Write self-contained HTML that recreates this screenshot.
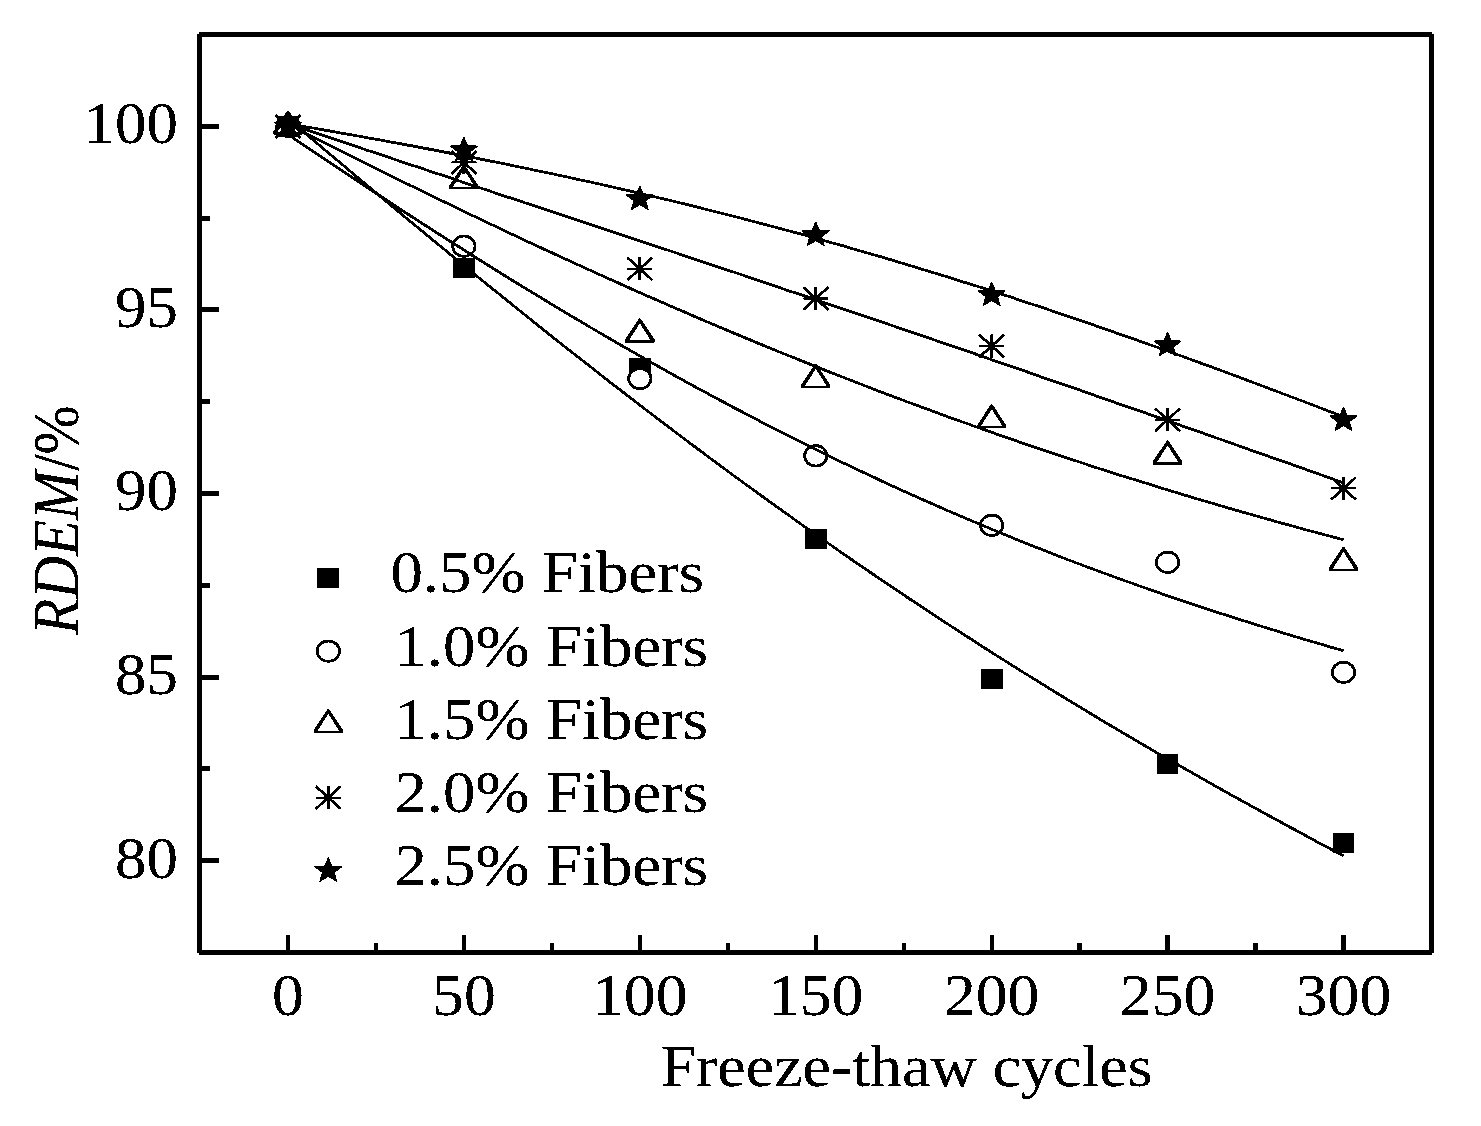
<!DOCTYPE html>
<html><head><meta charset="utf-8"><title>RDEM vs Freeze-thaw cycles</title>
<style>
html,body{margin:0;padding:0;background:#fff;}
body{width:1481px;height:1126px;overflow:hidden;}
svg{display:block;}
text{font-family:"Liberation Serif",serif;font-size:59px;fill:#000;}
</style></head><body>
<svg width="1481" height="1126" viewBox="0 0 1481 1126">
<defs><filter id="bw" x="0" y="0" width="1481" height="1126" filterUnits="userSpaceOnUse" color-interpolation-filters="sRGB">
<feComponentTransfer><feFuncR type="discrete" tableValues="0 0 0 1 1"/><feFuncG type="discrete" tableValues="0 0 0 1 1"/><feFuncB type="discrete" tableValues="0 0 0 1 1"/></feComponentTransfer>
</filter></defs>
<g filter="url(#bw)">
<rect x="0" y="0" width="1481" height="1126" fill="#fff"/>
<g shape-rendering="crispEdges" fill="#000">
<rect x="197" y="32" width="1237" height="5"/>
<rect x="197" y="950" width="1237" height="5"/>
<rect x="197" y="32" width="5" height="923"/>
<rect x="1429" y="32" width="5" height="923"/>
<g fill="#fff"><rect x="197" y="32" width="2" height="2"/><rect x="1432" y="32" width="2" height="2"/><rect x="197" y="953" width="2" height="2"/><rect x="1432" y="953" width="2" height="2"/></g>
<rect x="202" y="123.9" width="17" height="5"/>
<rect x="202" y="307.4" width="17" height="5"/>
<rect x="202" y="490.9" width="17" height="5"/>
<rect x="202" y="674.5" width="17" height="5"/>
<rect x="202" y="858.0" width="17" height="5"/>
<rect x="202" y="215.7" width="8" height="5"/>
<rect x="202" y="399.2" width="8" height="5"/>
<rect x="202" y="582.7" width="8" height="5"/>
<rect x="202" y="766.2" width="8" height="5"/>
<rect x="285.8" y="935" width="4.4" height="15"/>
<rect x="461.7" y="935" width="4.4" height="15"/>
<rect x="637.6" y="935" width="4.4" height="15"/>
<rect x="813.5" y="935" width="4.4" height="15"/>
<rect x="989.5" y="935" width="4.4" height="15"/>
<rect x="1165.4" y="935" width="4.4" height="15"/>
<rect x="1341.3" y="935" width="4.4" height="15"/>
<rect x="373.8" y="943" width="4.4" height="7"/>
<rect x="549.7" y="943" width="4.4" height="7"/>
<rect x="725.6" y="943" width="4.4" height="7"/>
<rect x="901.5" y="943" width="4.4" height="7"/>
<rect x="1077.4" y="943" width="4.4" height="7"/>
<rect x="1253.3" y="943" width="4.4" height="7"/>
</g>
<g>
<rect x="277.25" y="116.60" width="21.5" height="20" fill="#000"/>
<rect x="453.16" y="258.20" width="21.5" height="20" fill="#000"/>
<rect x="629.08" y="358.10" width="21.5" height="20" fill="#000"/>
<rect x="805.00" y="528.90" width="21.5" height="20" fill="#000"/>
<rect x="980.91" y="669.00" width="21.5" height="20" fill="#000"/>
<rect x="1156.83" y="754.00" width="21.5" height="20" fill="#000"/>
<rect x="1332.74" y="832.80" width="21.5" height="20" fill="#000"/>
<ellipse cx="288.00" cy="126.40" rx="11.2" ry="10.15" fill="#fff" stroke="#000" stroke-width="2.6"/>
<ellipse cx="463.91" cy="246.20" rx="11.2" ry="10.15" fill="#fff" stroke="#000" stroke-width="2.6"/>
<ellipse cx="639.83" cy="378.60" rx="11.2" ry="10.15" fill="#fff" stroke="#000" stroke-width="2.6"/>
<ellipse cx="815.75" cy="455.80" rx="11.2" ry="10.15" fill="#fff" stroke="#000" stroke-width="2.6"/>
<ellipse cx="991.66" cy="525.30" rx="11.2" ry="10.15" fill="#fff" stroke="#000" stroke-width="2.6"/>
<ellipse cx="1167.58" cy="562.30" rx="11.2" ry="10.15" fill="#fff" stroke="#000" stroke-width="2.6"/>
<ellipse cx="1343.49" cy="672.40" rx="11.2" ry="10.15" fill="#fff" stroke="#000" stroke-width="2.6"/>
<polygon points="287.40,110.40 288.60,110.40 302.65,131.60 302.65,134.40 273.35,134.40 273.35,131.60" fill="#000"/><polygon points="288.00,115.20 299.00,132.45 277.00,132.45" fill="#fff"/>
<polygon points="463.31,164.70 464.51,164.70 478.56,185.90 478.56,188.70 449.26,188.70 449.26,185.90" fill="#000"/><polygon points="463.91,169.50 474.91,186.75 452.91,186.75" fill="#fff"/>
<polygon points="639.23,318.40 640.43,318.40 654.48,339.60 654.48,342.40 625.18,342.40 625.18,339.60" fill="#000"/><polygon points="639.83,323.20 650.83,340.45 628.83,340.45" fill="#fff"/>
<polygon points="815.14,363.90 816.35,363.90 830.39,385.10 830.39,387.90 801.10,387.90 801.10,385.10" fill="#000"/><polygon points="815.75,368.70 826.75,385.95 804.75,385.95" fill="#fff"/>
<polygon points="991.06,404.30 992.26,404.30 1006.31,425.50 1006.31,428.30 977.01,428.30 977.01,425.50" fill="#000"/><polygon points="991.66,409.10 1002.66,426.35 980.66,426.35" fill="#fff"/>
<polygon points="1166.98,440.40 1168.17,440.40 1182.23,461.60 1182.23,464.40 1152.92,464.40 1152.92,461.60" fill="#000"/><polygon points="1167.58,445.20 1178.58,462.45 1156.58,462.45" fill="#fff"/>
<polygon points="1342.89,546.90 1344.09,546.90 1358.14,568.10 1358.14,570.90 1328.84,570.90 1328.84,568.10" fill="#000"/><polygon points="1343.49,551.70 1354.49,568.95 1332.49,568.95" fill="#fff"/>
<path d="M288.00,114.95 V137.85" stroke="#000" stroke-width="3" fill="none"/><path d="M275.50,126.40 H300.50" stroke="#000" stroke-width="2" fill="none"/><path d="M275.50,115.10 L300.50,137.70 M275.50,137.70 L300.50,115.10" stroke="#000" stroke-width="2.6" fill="none"/>
<path d="M463.91,150.95 V173.85" stroke="#000" stroke-width="3" fill="none"/><path d="M451.41,162.40 H476.41" stroke="#000" stroke-width="2" fill="none"/><path d="M451.41,151.10 L476.41,173.70 M451.41,173.70 L476.41,151.10" stroke="#000" stroke-width="2.6" fill="none"/>
<path d="M639.83,257.35 V280.25" stroke="#000" stroke-width="3" fill="none"/><path d="M627.33,268.80 H652.33" stroke="#000" stroke-width="2" fill="none"/><path d="M627.33,257.50 L652.33,280.10 M627.33,280.10 L652.33,257.50" stroke="#000" stroke-width="2.6" fill="none"/>
<path d="M815.75,287.05 V309.95" stroke="#000" stroke-width="3" fill="none"/><path d="M803.25,298.50 H828.25" stroke="#000" stroke-width="2" fill="none"/><path d="M803.25,287.20 L828.25,309.80 M803.25,309.80 L828.25,287.20" stroke="#000" stroke-width="2.6" fill="none"/>
<path d="M991.66,334.55 V357.45" stroke="#000" stroke-width="3" fill="none"/><path d="M979.16,346.00 H1004.16" stroke="#000" stroke-width="2" fill="none"/><path d="M979.16,334.70 L1004.16,357.30 M979.16,357.30 L1004.16,334.70" stroke="#000" stroke-width="2.6" fill="none"/>
<path d="M1167.58,408.25 V431.15" stroke="#000" stroke-width="3" fill="none"/><path d="M1155.08,419.70 H1180.08" stroke="#000" stroke-width="2" fill="none"/><path d="M1155.08,408.40 L1180.08,431.00 M1155.08,431.00 L1180.08,408.40" stroke="#000" stroke-width="2.6" fill="none"/>
<path d="M1343.49,476.95 V499.85" stroke="#000" stroke-width="3" fill="none"/><path d="M1330.99,488.40 H1355.99" stroke="#000" stroke-width="2" fill="none"/><path d="M1330.99,477.10 L1355.99,499.70 M1330.99,499.70 L1355.99,477.10" stroke="#000" stroke-width="2.6" fill="none"/>
<polygon points="288.00,113.20 291.66,121.81 301.79,122.32 293.93,128.15 296.52,137.08 288.00,132.08 279.48,137.08 282.07,128.15 274.21,122.32 284.34,121.81" fill="#000" stroke="#000" stroke-width="0.8" stroke-linejoin="round"/>
<polygon points="463.91,137.00 467.58,145.61 477.71,146.12 469.84,151.95 472.44,160.88 463.91,155.88 455.39,160.88 457.99,151.95 450.12,146.12 460.25,145.61" fill="#000" stroke="#000" stroke-width="0.8" stroke-linejoin="round"/>
<polygon points="639.83,185.90 643.49,194.51 653.62,195.02 645.76,200.85 648.35,209.78 639.83,204.78 631.31,209.78 633.90,200.85 626.04,195.02 636.17,194.51" fill="#000" stroke="#000" stroke-width="0.8" stroke-linejoin="round"/>
<polygon points="815.75,221.80 819.41,230.41 829.54,230.92 821.67,236.75 824.27,245.68 815.75,240.68 807.22,245.68 809.82,236.75 801.95,230.92 812.08,230.41" fill="#000" stroke="#000" stroke-width="0.8" stroke-linejoin="round"/>
<polygon points="991.66,281.80 995.32,290.41 1005.45,290.92 997.59,296.75 1000.18,305.68 991.66,300.68 983.14,305.68 985.73,296.75 977.87,290.92 988.00,290.41" fill="#000" stroke="#000" stroke-width="0.8" stroke-linejoin="round"/>
<polygon points="1167.58,332.00 1171.24,340.61 1181.37,341.12 1173.50,346.95 1176.10,355.88 1167.58,350.88 1159.05,355.88 1161.65,346.95 1153.78,341.12 1163.91,340.61" fill="#000" stroke="#000" stroke-width="0.8" stroke-linejoin="round"/>
<polygon points="1343.49,406.80 1347.15,415.41 1357.28,415.92 1349.42,421.75 1352.01,430.68 1343.49,425.68 1334.97,430.68 1337.56,421.75 1329.70,415.92 1339.83,415.41" fill="#000" stroke="#000" stroke-width="0.8" stroke-linejoin="round"/>
</g>
<rect x="277.25" y="116.6" width="21.5" height="11" fill="#000"/><rect x="282" y="127" width="11.5" height="9.6" fill="#000"/>
<g fill="none" stroke="#000" stroke-width="2.6" stroke-linejoin="round">
<path d="M288.0,118.8 L301.2,129.9 L314.4,141.1 L327.6,152.2 L340.8,163.3 L354.0,174.4 L367.2,185.4 L380.4,196.4 L393.6,207.4 L406.7,218.4 L419.9,229.3 L433.1,240.2 L446.3,251.1 L459.5,261.9 L472.7,272.7 L485.9,283.4 L499.1,294.1 L512.3,304.7 L525.5,315.3 L538.7,325.9 L551.9,336.4 L565.1,346.9 L578.3,357.3 L591.5,367.6 L604.6,377.9 L617.8,388.1 L631.0,398.3 L644.2,408.5 L657.4,418.5 L670.6,428.5 L683.8,438.5 L697.0,448.4 L710.2,458.2 L723.4,468.0 L736.6,477.7 L749.8,487.3 L763.0,496.9 L776.2,506.4 L789.4,515.8 L802.6,525.2 L815.8,534.5 L828.9,543.8 L842.1,553.0 L855.3,562.1 L868.5,571.1 L881.7,580.1 L894.9,589.0 L908.1,597.9 L921.3,606.6 L934.5,615.4 L947.7,624.0 L960.9,632.6 L974.1,641.1 L987.3,649.6 L1000.5,658.0 L1013.7,666.3 L1026.8,674.5 L1040.0,682.7 L1053.2,690.9 L1066.4,698.9 L1079.6,706.9 L1092.8,714.9 L1106.0,722.8 L1119.2,730.6 L1132.4,738.4 L1145.6,746.1 L1158.8,753.8 L1172.0,761.4 L1185.2,768.9 L1198.4,776.4 L1211.6,783.9 L1224.8,791.3 L1237.9,798.6 L1251.1,805.9 L1264.3,813.2 L1277.5,820.4 L1290.7,827.5 L1303.9,834.7 L1317.1,841.8 L1330.3,848.8 L1343.5,855.8"/>
<path d="M288.0,134.5 L301.2,143.4 L314.4,152.3 L327.6,161.1 L340.8,169.9 L354.0,178.7 L367.2,187.4 L380.4,196.1 L393.6,204.8 L406.7,213.4 L419.9,221.9 L433.1,230.4 L446.3,238.8 L459.5,247.2 L472.7,255.6 L485.9,263.9 L499.1,272.1 L512.3,280.3 L525.5,288.4 L538.7,296.4 L551.9,304.4 L565.1,312.3 L578.3,320.2 L591.5,328.0 L604.6,335.7 L617.8,343.3 L631.0,350.9 L644.2,358.4 L657.4,365.9 L670.6,373.3 L683.8,380.6 L697.0,387.8 L710.2,394.9 L723.4,402.0 L736.6,409.0 L749.8,415.9 L763.0,422.8 L776.2,429.6 L789.4,436.3 L802.6,442.9 L815.8,449.4 L828.9,455.9 L842.1,462.3 L855.3,468.6 L868.5,474.8 L881.7,481.0 L894.9,487.1 L908.1,493.1 L921.3,499.0 L934.5,504.8 L947.7,510.6 L960.9,516.3 L974.1,521.9 L987.3,527.4 L1000.5,532.9 L1013.7,538.3 L1026.8,543.6 L1040.0,548.8 L1053.2,554.0 L1066.4,559.1 L1079.6,564.1 L1092.8,569.0 L1106.0,573.9 L1119.2,578.7 L1132.4,583.4 L1145.6,588.1 L1158.8,592.7 L1172.0,597.2 L1185.2,601.7 L1198.4,606.1 L1211.6,610.5 L1224.8,614.7 L1237.9,619.0 L1251.1,623.1 L1264.3,627.2 L1277.5,631.3 L1290.7,635.3 L1303.9,639.2 L1317.1,643.1 L1330.3,646.9 L1343.5,650.7"/>
<path d="M288.0,124.2 L301.2,130.9 L314.4,137.6 L327.6,144.3 L340.8,150.9 L354.0,157.5 L367.2,164.1 L380.4,170.6 L393.6,177.1 L406.7,183.6 L419.9,190.1 L433.1,196.5 L446.3,202.9 L459.5,209.3 L472.7,215.6 L485.9,221.9 L499.1,228.1 L512.3,234.4 L525.5,240.6 L538.7,246.7 L551.9,252.8 L565.1,258.9 L578.3,264.9 L591.5,270.9 L604.6,276.9 L617.8,282.8 L631.0,288.7 L644.2,294.6 L657.4,300.3 L670.6,306.1 L683.8,311.8 L697.0,317.5 L710.2,323.1 L723.4,328.7 L736.6,334.2 L749.8,339.7 L763.0,345.2 L776.2,350.6 L789.4,355.9 L802.6,361.3 L815.8,366.5 L828.9,371.7 L842.1,376.9 L855.3,382.0 L868.5,387.1 L881.7,392.2 L894.9,397.2 L908.1,402.1 L921.3,407.0 L934.5,411.8 L947.7,416.7 L960.9,421.4 L974.1,426.1 L987.3,430.8 L1000.5,435.4 L1013.7,440.0 L1026.8,444.5 L1040.0,449.0 L1053.2,453.4 L1066.4,457.8 L1079.6,462.1 L1092.8,466.4 L1106.0,470.7 L1119.2,474.9 L1132.4,479.0 L1145.6,483.1 L1158.8,487.2 L1172.0,491.2 L1185.2,495.2 L1198.4,499.2 L1211.6,503.1 L1224.8,506.9 L1237.9,510.7 L1251.1,514.5 L1264.3,518.2 L1277.5,521.9 L1290.7,525.6 L1303.9,529.2 L1317.1,532.8 L1330.3,536.3 L1343.5,539.8"/>
<path d="M288.0,123.4 L301.2,127.9 L314.4,132.4 L327.6,136.8 L340.8,141.3 L354.0,145.7 L367.2,150.2 L380.4,154.6 L393.6,159.0 L406.7,163.4 L419.9,167.8 L433.1,172.2 L446.3,176.6 L459.5,181.0 L472.7,185.4 L485.9,189.8 L499.1,194.2 L512.3,198.6 L525.5,202.9 L538.7,207.3 L551.9,211.7 L565.1,216.1 L578.3,220.4 L591.5,224.8 L604.6,229.2 L617.8,233.6 L631.0,238.0 L644.2,242.3 L657.4,246.7 L670.6,251.1 L683.8,255.5 L697.0,259.9 L710.2,264.3 L723.4,268.7 L736.6,273.1 L749.8,277.6 L763.0,282.0 L776.2,286.4 L789.4,290.9 L802.6,295.3 L815.8,299.7 L828.9,304.2 L842.1,308.7 L855.3,313.1 L868.5,317.6 L881.7,322.1 L894.9,326.6 L908.1,331.1 L921.3,335.6 L934.5,340.1 L947.7,344.6 L960.9,349.1 L974.1,353.6 L987.3,358.2 L1000.5,362.7 L1013.7,367.3 L1026.8,371.8 L1040.0,376.4 L1053.2,380.9 L1066.4,385.5 L1079.6,390.1 L1092.8,394.7 L1106.0,399.3 L1119.2,403.9 L1132.4,408.5 L1145.6,413.1 L1158.8,417.7 L1172.0,422.3 L1185.2,427.0 L1198.4,431.6 L1211.6,436.2 L1224.8,440.9 L1237.9,445.5 L1251.1,450.2 L1264.3,454.8 L1277.5,459.5 L1290.7,464.1 L1303.9,468.8 L1317.1,473.4 L1330.3,478.1 L1343.5,482.7"/>
<path d="M288.0,123.8 L301.2,126.0 L314.4,128.3 L327.6,130.6 L340.8,133.0 L354.0,135.3 L367.2,137.7 L380.4,140.0 L393.6,142.5 L406.7,144.9 L419.9,147.4 L433.1,149.9 L446.3,152.4 L459.5,154.9 L472.7,157.5 L485.9,160.1 L499.1,162.8 L512.3,165.5 L525.5,168.2 L538.7,170.9 L551.9,173.7 L565.1,176.6 L578.3,179.4 L591.5,182.3 L604.6,185.3 L617.8,188.3 L631.0,191.3 L644.2,194.4 L657.4,197.5 L670.6,200.6 L683.8,203.8 L697.0,207.1 L710.2,210.4 L723.4,213.7 L736.6,217.0 L749.8,220.5 L763.0,223.9 L776.2,227.4 L789.4,231.0 L802.6,234.6 L815.8,238.2 L828.9,241.9 L842.1,245.6 L855.3,249.4 L868.5,253.2 L881.7,257.1 L894.9,261.0 L908.1,264.9 L921.3,268.9 L934.5,273.0 L947.7,277.0 L960.9,281.2 L974.1,285.3 L987.3,289.6 L1000.5,293.8 L1013.7,298.1 L1026.8,302.4 L1040.0,306.8 L1053.2,311.2 L1066.4,315.7 L1079.6,320.2 L1092.8,324.7 L1106.0,329.3 L1119.2,333.9 L1132.4,338.5 L1145.6,343.2 L1158.8,347.9 L1172.0,352.6 L1185.2,357.4 L1198.4,362.2 L1211.6,367.0 L1224.8,371.9 L1237.9,376.8 L1251.1,381.7 L1264.3,386.6 L1277.5,391.6 L1290.7,396.6 L1303.9,401.6 L1317.1,406.6 L1330.3,411.7 L1343.5,416.7"/>
</g>
<g>
<rect x="317.55" y="568.00" width="21.5" height="20" fill="#000"/>
<ellipse cx="328.30" cy="651.20" rx="11.2" ry="10.15" fill="#fff" stroke="#000" stroke-width="2.6"/>
<polygon points="327.70,708.90 328.90,708.90 342.95,730.10 342.95,732.90 313.65,732.90 313.65,730.10" fill="#000"/><polygon points="328.30,713.70 339.30,730.95 317.30,730.95" fill="#fff"/>
<path d="M328.30,786.15 V809.05" stroke="#000" stroke-width="3" fill="none"/><path d="M315.80,797.60 H340.80" stroke="#000" stroke-width="2" fill="none"/><path d="M315.80,786.30 L340.80,808.90 M315.80,808.90 L340.80,786.30" stroke="#000" stroke-width="2.6" fill="none"/>
<polygon points="328.30,857.60 331.96,866.21 342.09,866.72 334.23,872.55 336.82,881.48 328.30,876.48 319.78,881.48 322.37,872.55 314.51,866.72 324.64,866.21" fill="#000" stroke="#000" stroke-width="0.8" stroke-linejoin="round"/>
</g>
<text transform="translate(390.4,592.4) scale(1.10,1)">0.5% Fibers</text>
<text transform="translate(394.4,665.6) scale(1.10,1)">1.0% Fibers</text>
<text transform="translate(394.4,738.8) scale(1.10,1)">1.5% Fibers</text>
<text transform="translate(394.4,812.0) scale(1.10,1)">2.0% Fibers</text>
<text transform="translate(394.4,885.2) scale(1.10,1)">2.5% Fibers</text>
<text text-anchor="middle" transform="translate(288.0,1015.3) scale(1.08,1)">0</text>
<text text-anchor="middle" transform="translate(463.9,1015.3) scale(1.08,1)">50</text>
<text text-anchor="middle" transform="translate(639.8,1015.3) scale(1.08,1)">100</text>
<text text-anchor="middle" transform="translate(815.7,1015.3) scale(1.08,1)">150</text>
<text text-anchor="middle" transform="translate(991.7,1015.3) scale(1.08,1)">200</text>
<text text-anchor="middle" transform="translate(1167.6,1015.3) scale(1.08,1)">250</text>
<text text-anchor="middle" transform="translate(1343.5,1015.3) scale(1.08,1)">300</text>
<text text-anchor="end" transform="translate(177.8,143.4) scale(1.065,1)">100</text>
<text text-anchor="end" transform="translate(177.8,326.9) scale(1.065,1)">95</text>
<text text-anchor="end" transform="translate(177.8,510.4) scale(1.065,1)">90</text>
<text text-anchor="end" transform="translate(177.8,694.0) scale(1.065,1)">85</text>
<text text-anchor="end" transform="translate(177.8,877.5) scale(1.065,1)">80</text>
<text text-anchor="middle" transform="translate(906.5,1085.8) scale(1.085,1)">Freeze-thaw cycles</text>
<text text-anchor="middle" transform="translate(78,520) rotate(-90) scale(1,1.1)"><tspan font-style="italic">RDEM</tspan>/%</text>
</g></svg></body></html>
